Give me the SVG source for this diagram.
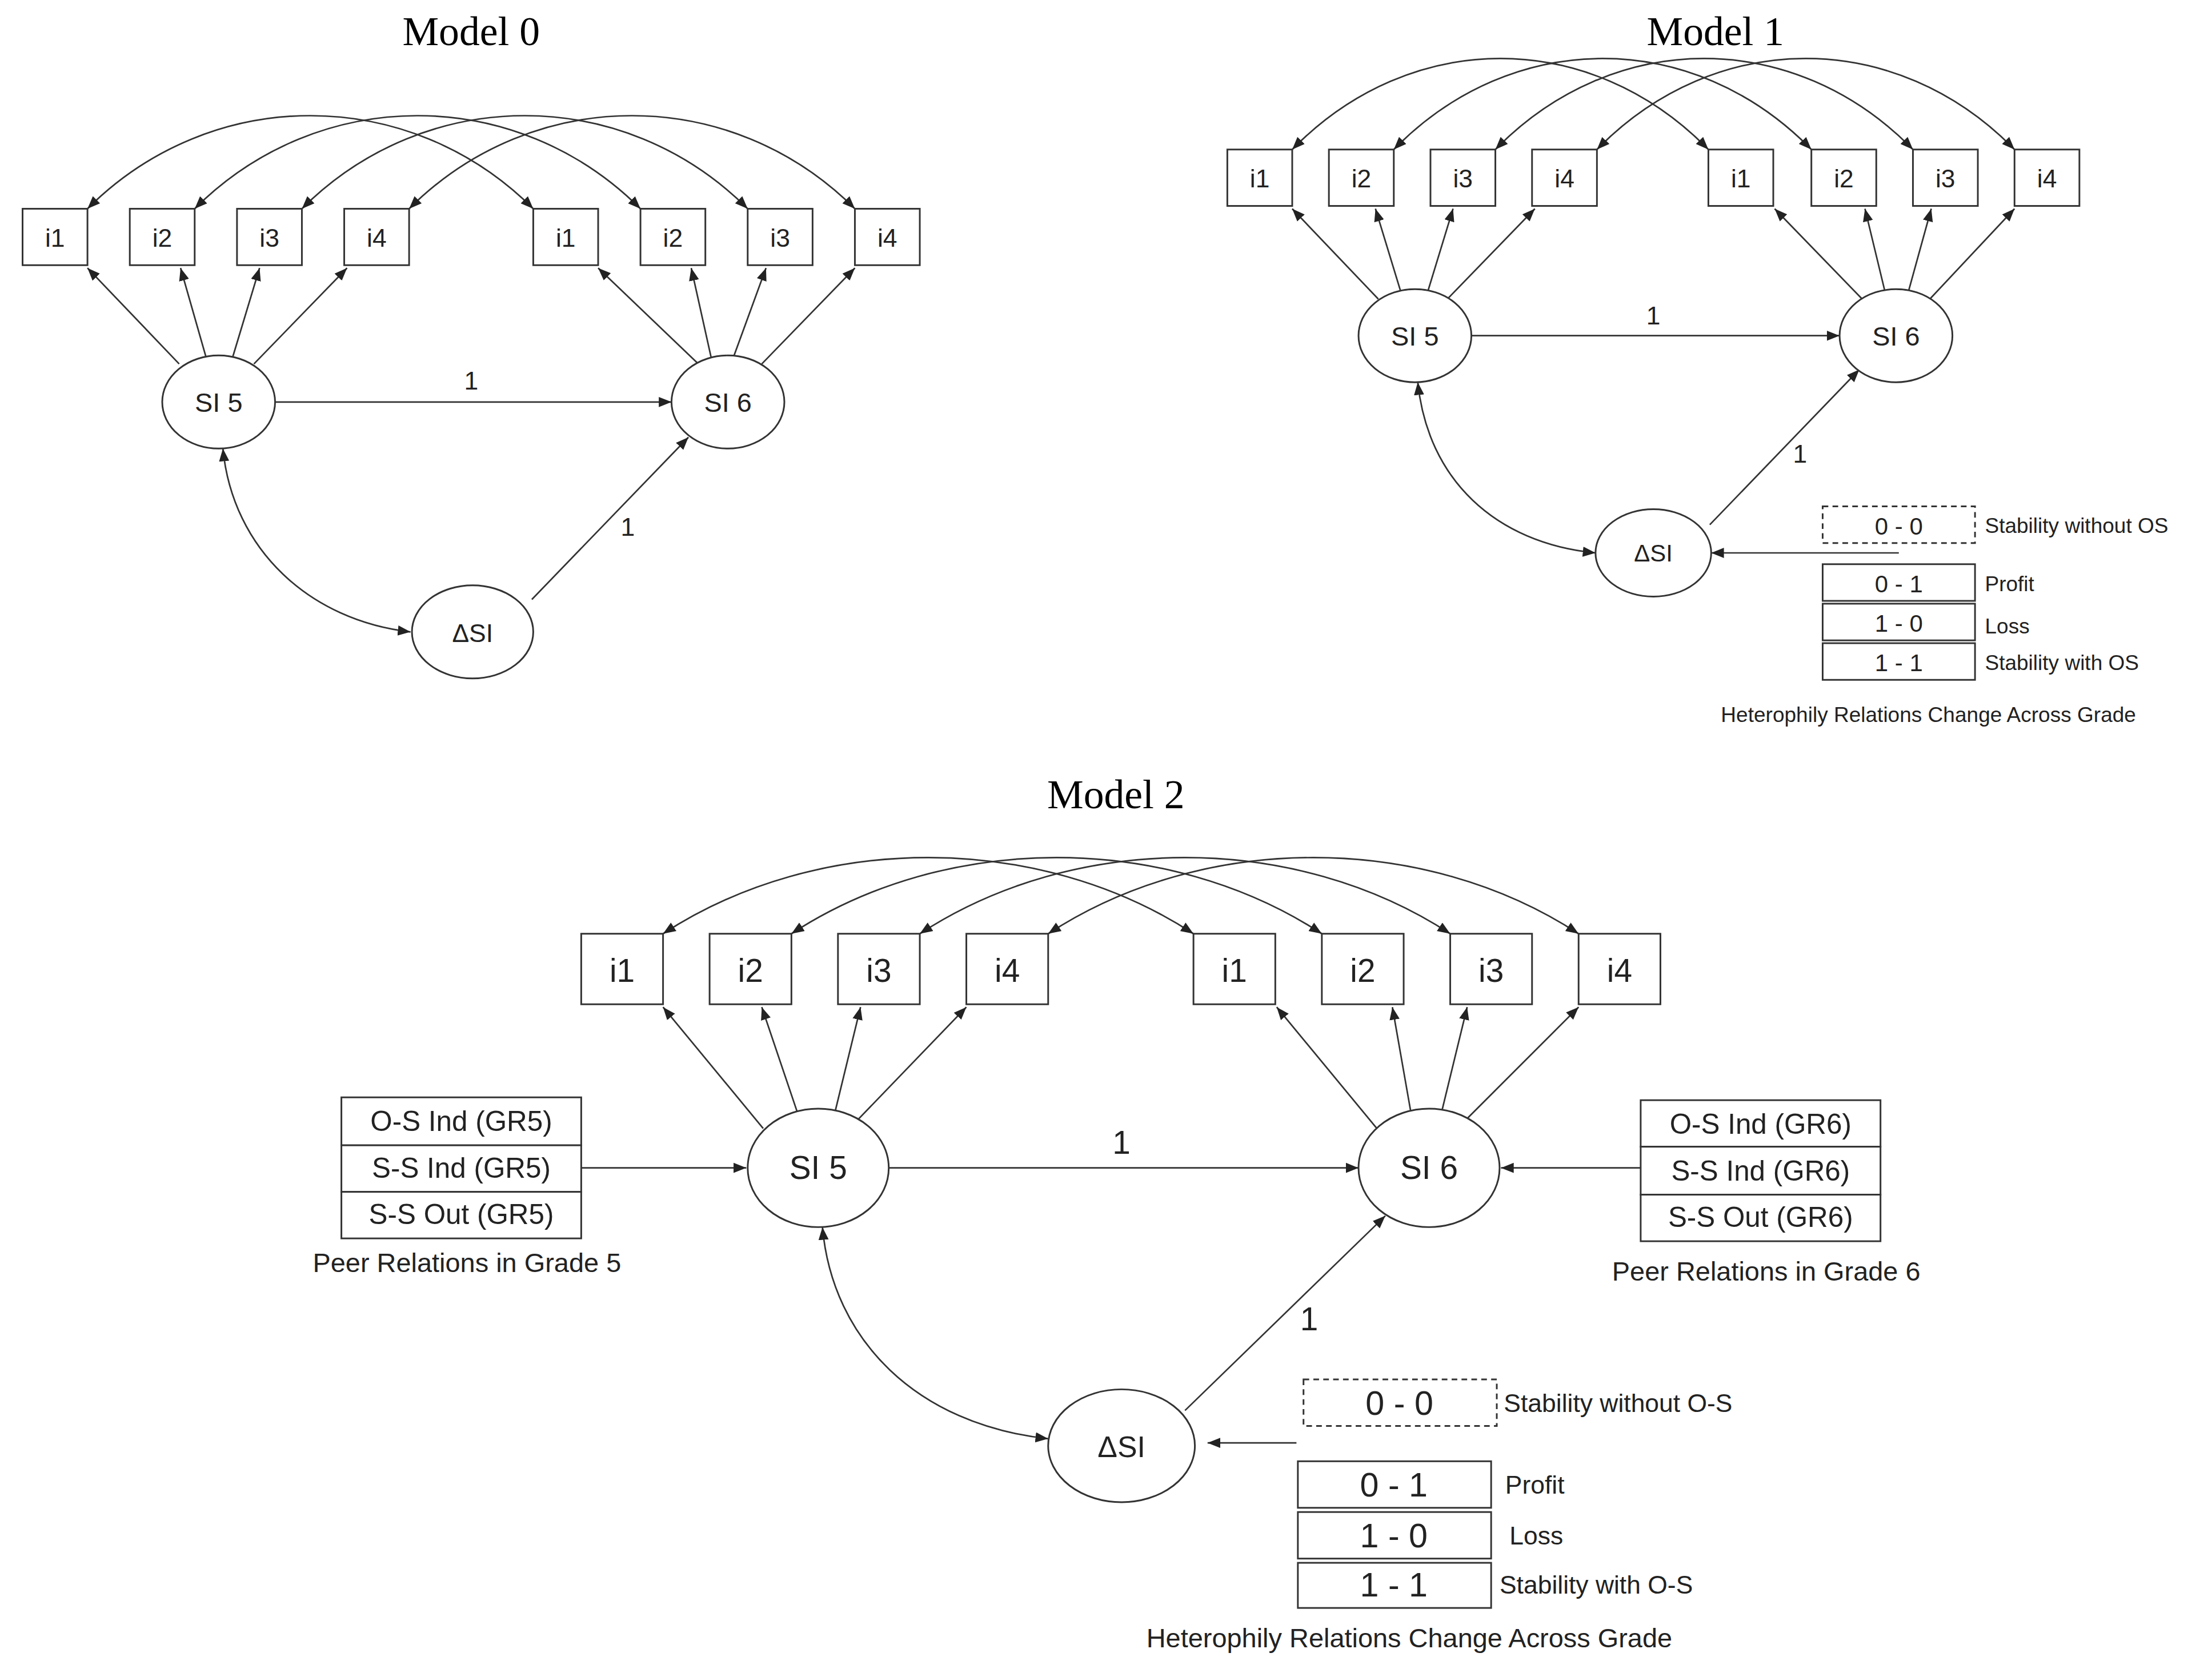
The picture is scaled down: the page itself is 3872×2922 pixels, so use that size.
<svg xmlns="http://www.w3.org/2000/svg" width="3872" height="2922" viewBox="0 0 3872 2922">
<style>
.b{fill:#fff;stroke:#333;stroke-width:1.2}
.d{fill:#fff;stroke:#333;stroke-width:1.2;stroke-dasharray:4 3}
.c{fill:none;stroke:#333;stroke-width:1.1}
.t{font-family:"Liberation Sans",Arial,sans-serif;fill:#222;text-anchor:middle}
.s{font-family:"Liberation Sans",Arial,sans-serif;fill:#222}
.h{font-family:"Liberation Serif","Times New Roman",serif;fill:#000;text-anchor:middle;font-size:29px}
</style>
<defs>
<marker id="a" viewBox="0 0 10 10" refX="10" refY="5" markerWidth="9" markerHeight="9" markerUnits="userSpaceOnUse" orient="auto-start-reverse"><path d="M0,1 L10,5 L0,9 z" fill="#222"/></marker>
</defs>
<rect width="3872" height="2922" fill="#fff"/>
<g transform="scale(2.4694)">
<!-- Model 0 -->
<text class="h" x="334" y="32">Model 0</text>
<g id="m0-connectors">
<path class="c" d="M62 148 C150 60 290 60 378 148" marker-start="url(#a)" marker-end="url(#a)"/>
<path class="c" d="M138 148 C226 60 366 60 454 148" marker-start="url(#a)" marker-end="url(#a)"/>
<path class="c" d="M214 148 C302 60 442 60 530 148" marker-start="url(#a)" marker-end="url(#a)"/>
<path class="c" d="M290 148 C378 60 518 60 606 148" marker-start="url(#a)" marker-end="url(#a)"/>
<path class="c" d="M127 258 L62 190" marker-end="url(#a)"/>
<path class="c" d="M146 253 L128 190" marker-end="url(#a)"/>
<path class="c" d="M165 253 L184 190" marker-end="url(#a)"/>
<path class="c" d="M180 258 L246 190" marker-end="url(#a)"/>
<path class="c" d="M495 258 L424 190" marker-end="url(#a)"/>
<path class="c" d="M504 253 L490 190" marker-end="url(#a)"/>
<path class="c" d="M520 253 L543 190" marker-end="url(#a)"/>
<path class="c" d="M540 258 L606 190" marker-end="url(#a)"/>
<path class="c" d="M195 285 L476 285" marker-end="url(#a)"/>
<path class="c" d="M377 425 L488 310" marker-end="url(#a)"/>
<path class="c" d="M158 318 C165 390 220 440 291 448" marker-start="url(#a)" marker-end="url(#a)"/>
<text class="t" x="334" y="276" font-size="18">1</text>
<text class="t" x="445" y="380" font-size="18">1</text>
</g>
<g id="m0-i1a"><rect class="b" x="16" y="148" width="46" height="40"/><text class="t" x="39" y="175" font-size="18">i1</text></g>
<g id="m0-i2a"><rect class="b" x="92" y="148" width="46" height="40"/><text class="t" x="115" y="175" font-size="18">i2</text></g>
<g id="m0-i3a"><rect class="b" x="168" y="148" width="46" height="40"/><text class="t" x="191" y="175" font-size="18">i3</text></g>
<g id="m0-i4a"><rect class="b" x="244" y="148" width="46" height="40"/><text class="t" x="267" y="175" font-size="18">i4</text></g>
<g id="m0-i1b"><rect class="b" x="378" y="148" width="46" height="40"/><text class="t" x="401" y="175" font-size="18">i1</text></g>
<g id="m0-i2b"><rect class="b" x="454" y="148" width="46" height="40"/><text class="t" x="477" y="175" font-size="18">i2</text></g>
<g id="m0-i3b"><rect class="b" x="530" y="148" width="46" height="40"/><text class="t" x="553" y="175" font-size="18">i3</text></g>
<g id="m0-i4b"><rect class="b" x="606" y="148" width="46" height="40"/><text class="t" x="629" y="175" font-size="18">i4</text></g>
<g id="m0-si5"><ellipse class="b" cx="155" cy="285" rx="40" ry="33"/><text class="t" x="155" y="292" font-size="19">SI 5</text></g>
<g id="m0-si6"><ellipse class="b" cx="516" cy="285" rx="40" ry="33"/><text class="t" x="516" y="292" font-size="19">SI 6</text></g>
<g id="m0-dsi"><ellipse class="b" cx="335" cy="448" rx="43" ry="33"/><text class="t" x="335" y="455" font-size="18">ΔSI</text></g>

<!-- Model 1 -->
<text class="h" x="1216" y="32">Model 1</text>
<g id="m1-connectors">
<path class="c" d="M916 106 C1000 20 1127 20 1211 106" marker-start="url(#a)" marker-end="url(#a)"/>
<path class="c" d="M988 106 C1072 20 1200 20 1284 106" marker-start="url(#a)" marker-end="url(#a)"/>
<path class="c" d="M1060 106 C1144 20 1272 20 1356 106" marker-start="url(#a)" marker-end="url(#a)"/>
<path class="c" d="M1132 106 C1216 20 1344 20 1428 106" marker-start="url(#a)" marker-end="url(#a)"/>
<path class="c" d="M977 212 L916 148" marker-end="url(#a)"/>
<path class="c" d="M993 207 L975 148" marker-end="url(#a)"/>
<path class="c" d="M1012 207 L1030 148" marker-end="url(#a)"/>
<path class="c" d="M1026 212 L1088 148" marker-end="url(#a)"/>
<path class="c" d="M1320 212 L1258 148" marker-end="url(#a)"/>
<path class="c" d="M1336 206 L1322 148" marker-end="url(#a)"/>
<path class="c" d="M1353 206 L1369 148" marker-end="url(#a)"/>
<path class="c" d="M1368 212 L1428 148" marker-end="url(#a)"/>
<path class="c" d="M1043 238 L1304 238" marker-end="url(#a)"/>
<path class="c" d="M1212 372 L1318 262" marker-end="url(#a)"/>
<path class="c" d="M1005 271 C1012 340 1060 385 1131 392" marker-start="url(#a)" marker-end="url(#a)"/>
<path class="c" d="M1346 392 L1213 392" marker-end="url(#a)"/>
<text class="t" x="1172" y="230" font-size="18">1</text>
<text class="t" x="1276" y="328" font-size="18">1</text>
</g>
<g id="m1-i1a"><rect class="b" x="870" y="106" width="46" height="40"/><text class="t" x="893" y="133" font-size="18">i1</text></g>
<g id="m1-i2a"><rect class="b" x="942" y="106" width="46" height="40"/><text class="t" x="965" y="133" font-size="18">i2</text></g>
<g id="m1-i3a"><rect class="b" x="1014" y="106" width="46" height="40"/><text class="t" x="1037" y="133" font-size="18">i3</text></g>
<g id="m1-i4a"><rect class="b" x="1086" y="106" width="46" height="40"/><text class="t" x="1109" y="133" font-size="18">i4</text></g>
<g id="m1-i1b"><rect class="b" x="1211" y="106" width="46" height="40"/><text class="t" x="1234" y="133" font-size="18">i1</text></g>
<g id="m1-i2b"><rect class="b" x="1284" y="106" width="46" height="40"/><text class="t" x="1307" y="133" font-size="18">i2</text></g>
<g id="m1-i3b"><rect class="b" x="1356" y="106" width="46" height="40"/><text class="t" x="1379" y="133" font-size="18">i3</text></g>
<g id="m1-i4b"><rect class="b" x="1428" y="106" width="46" height="40"/><text class="t" x="1451" y="133" font-size="18">i4</text></g>
<g id="m1-si5"><ellipse class="b" cx="1003" cy="238" rx="40" ry="33"/><text class="t" x="1003" y="245" font-size="19">SI 5</text></g>
<g id="m1-si6"><ellipse class="b" cx="1344" cy="238" rx="40" ry="33"/><text class="t" x="1344" y="245" font-size="19">SI 6</text></g>
<g id="m1-dsi"><ellipse class="b" cx="1172" cy="392" rx="41" ry="31"/><text class="t" x="1172" y="398" font-size="17">ΔSI</text></g>
<g id="m1-legend">
<rect class="d" x="1292" y="359" width="108" height="26"/><text class="t" x="1346" y="379" font-size="17">0 - 0</text>
<rect class="b" x="1292" y="400" width="108" height="26"/><text class="t" x="1346" y="420" font-size="17">0 - 1</text>
<rect class="b" x="1292" y="428" width="108" height="26"/><text class="t" x="1346" y="448" font-size="17">1 - 0</text>
<rect class="b" x="1292" y="456" width="108" height="26"/><text class="t" x="1346" y="476" font-size="17">1 - 1</text>
<text class="s" x="1407" y="378" font-size="15">Stability without OS</text>
<text class="s" x="1407" y="419" font-size="15">Profit</text>
<text class="s" x="1407" y="449" font-size="15">Loss</text>
<text class="s" x="1407" y="475" font-size="15">Stability with OS</text>
<text class="t" x="1367" y="512" font-size="15">Heterophily Relations Change Across Grade</text>
</g>

<!-- Model 2 -->
<text class="h" x="791" y="573">Model 2</text>
<g id="m2-connectors">
<path class="c" d="M470 662 C580 590 736 590 846 662" marker-start="url(#a)" marker-end="url(#a)"/>
<path class="c" d="M561 662 C671 590 827 590 937 662" marker-start="url(#a)" marker-end="url(#a)"/>
<path class="c" d="M652 662 C762 590 918 590 1028 662" marker-start="url(#a)" marker-end="url(#a)"/>
<path class="c" d="M743 662 C853 590 1009 590 1119 662" marker-start="url(#a)" marker-end="url(#a)"/>
<path class="c" d="M541 800 L470 714" marker-end="url(#a)"/>
<path class="c" d="M565 788 L540 714" marker-end="url(#a)"/>
<path class="c" d="M592 788 L610 714" marker-end="url(#a)"/>
<path class="c" d="M607 795 L685 714" marker-end="url(#a)"/>
<path class="c" d="M976 800 L905 714" marker-end="url(#a)"/>
<path class="c" d="M1000 788 L987 714" marker-end="url(#a)"/>
<path class="c" d="M1022 788 L1040 714" marker-end="url(#a)"/>
<path class="c" d="M1038 795 L1119 714" marker-end="url(#a)"/>
<path class="c" d="M630 828 L963 828" marker-end="url(#a)"/>
<path class="c" d="M412 828 L529 828" marker-end="url(#a)"/>
<path class="c" d="M1163 828 L1064 828" marker-end="url(#a)"/>
<path class="c" d="M840 1000 L982 862" marker-end="url(#a)"/>
<path class="c" d="M583 870 C590 950 650 1010 743 1020" marker-start="url(#a)" marker-end="url(#a)"/>
<path class="c" d="M919 1023 L856 1023" marker-end="url(#a)"/>
<text class="t" x="795" y="818" font-size="23">1</text>
<text class="t" x="928" y="943" font-size="23">1</text>
</g>
<g id="m2-i1a"><rect class="b" x="412" y="662" width="58" height="50"/><text class="t" x="441" y="696" font-size="23">i1</text></g>
<g id="m2-i2a"><rect class="b" x="503" y="662" width="58" height="50"/><text class="t" x="532" y="696" font-size="23">i2</text></g>
<g id="m2-i3a"><rect class="b" x="594" y="662" width="58" height="50"/><text class="t" x="623" y="696" font-size="23">i3</text></g>
<g id="m2-i4a"><rect class="b" x="685" y="662" width="58" height="50"/><text class="t" x="714" y="696" font-size="23">i4</text></g>
<g id="m2-i1b"><rect class="b" x="846" y="662" width="58" height="50"/><text class="t" x="875" y="696" font-size="23">i1</text></g>
<g id="m2-i2b"><rect class="b" x="937" y="662" width="58" height="50"/><text class="t" x="966" y="696" font-size="23">i2</text></g>
<g id="m2-i3b"><rect class="b" x="1028" y="662" width="58" height="50"/><text class="t" x="1057" y="696" font-size="23">i3</text></g>
<g id="m2-i4b"><rect class="b" x="1119" y="662" width="58" height="50"/><text class="t" x="1148" y="696" font-size="23">i4</text></g>
<g id="m2-si5"><ellipse class="b" cx="580" cy="828" rx="50" ry="42"/><text class="t" x="580" y="836" font-size="23">SI 5</text></g>
<g id="m2-si6"><ellipse class="b" cx="1013" cy="828" rx="50" ry="42"/><text class="t" x="1013" y="836" font-size="23">SI 6</text></g>
<g id="m2-dsi"><ellipse class="b" cx="795" cy="1025" rx="52" ry="40"/><text class="t" x="795" y="1033" font-size="21">ΔSI</text></g>
<g id="m2-peer5">
<rect class="b" x="242" y="778" width="170" height="34"/><text class="t" x="327" y="802" font-size="20">O-S Ind (GR5)</text>
<rect class="b" x="242" y="812" width="170" height="33"/><text class="t" x="327" y="835" font-size="20">S-S Ind (GR5)</text>
<rect class="b" x="242" y="845" width="170" height="33"/><text class="t" x="327" y="868" font-size="20">S-S Out (GR5)</text>
<text class="t" x="331" y="902" font-size="19">Peer Relations in Grade 5</text>
</g>
<g id="m2-peer6">
<rect class="b" x="1163" y="780" width="170" height="33"/><text class="t" x="1248" y="804" font-size="20">O-S Ind (GR6)</text>
<rect class="b" x="1163" y="813" width="170" height="34"/><text class="t" x="1248" y="837" font-size="20">S-S Ind (GR6)</text>
<rect class="b" x="1163" y="847" width="170" height="33"/><text class="t" x="1248" y="870" font-size="20">S-S Out (GR6)</text>
<text class="t" x="1252" y="908" font-size="19">Peer Relations in Grade 6</text>
</g>
<g id="m2-legend">
<rect class="d" x="924" y="978" width="137" height="33"/><text class="t" x="992" y="1003" font-size="24">0 - 0</text>
<rect class="b" x="920" y="1036" width="137" height="33"/><text class="t" x="988" y="1061" font-size="24">0 - 1</text>
<rect class="b" x="920" y="1072" width="137" height="33"/><text class="t" x="988" y="1097" font-size="24">1 - 0</text>
<rect class="b" x="920" y="1108" width="137" height="32"/><text class="t" x="988" y="1132" font-size="24">1 - 1</text>
<text class="s" x="1066" y="1001" font-size="18">Stability without O-S</text>
<text class="s" x="1067" y="1059" font-size="18">Profit</text>
<text class="s" x="1070" y="1095" font-size="18">Loss</text>
<text class="s" x="1063" y="1130" font-size="18">Stability with O-S</text>
<text class="t" x="999" y="1168" font-size="19">Heterophily Relations Change Across Grade</text>
</g>
</g>
</svg>
